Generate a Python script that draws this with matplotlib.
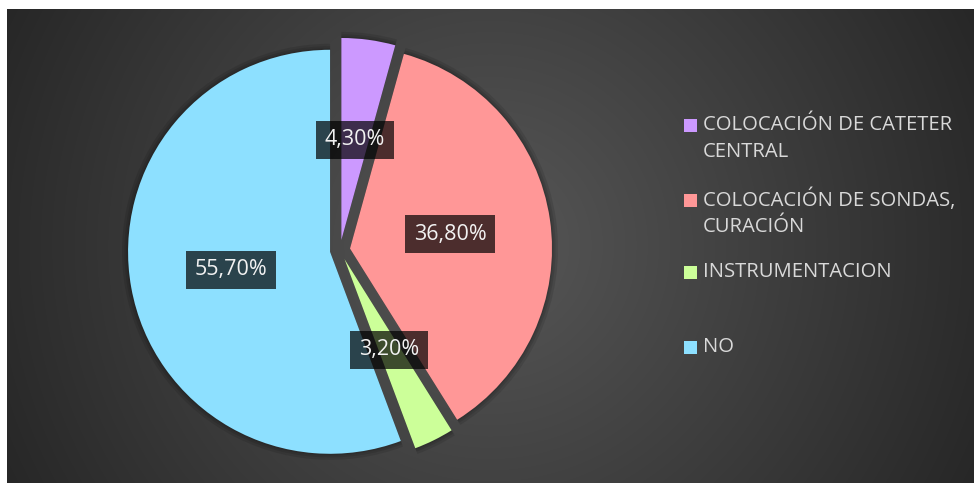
import numpy as np
import matplotlib
matplotlib.use("Agg")
import matplotlib.pyplot as plt
from matplotlib.patches import Rectangle

# ---- data ----
categories = [
    "COLOCACIÓN DE CATETER\nCENTRAL",
    "COLOCACIÓN DE SONDAS,\nCURACIÓN",
    "INSTRUMENTACION",
    "NO",
]
values = [4.30, 36.80, 3.20, 55.70]
colors = ["#CC99FF", "#FF9797", "#CCFF99", "#8DE0FF"]

W, H = 974, 483
plt.rcParams["font.family"] = ["Open Sans", "DejaVu Sans"]

fig = plt.figure(figsize=(W / 100, H / 100), dpi=100, facecolor="white")

# ---- radial gradient background ----
bg = fig.add_axes([7 / W, 0, (W - 7) / W, (H - 9) / H])
bw, bh = W - 7, H - 9
yy, xx = np.mgrid[0:bh, 0:bw]
cx, cy = 490 - 7, 245 - 9
d = np.hypot(xx - cx, yy - cy) / np.hypot(max(cx, bw - cx), max(cy, bh - cy))
d = np.clip(d, 0, 1)
c0, c1 = 0x57 / 255, 0x27 / 255
g = c0 + (c1 - c0) * d
bg.imshow(np.dstack([g, g, g]), aspect="auto", interpolation="bilinear")
bg.set_axis_off()

# ---- pie ----
R = 202
lim = 1.1
side = 2 * lim * R
pcx, pcy = 340, 250
ax = fig.add_axes([(pcx - side / 2) / W, (H - pcy - side / 2) / H, side / W, side / H])
ax.set_facecolor("none")
explode = [0.05] * len(values)

# soft shadow under slices
for r in [1.03, 1.018, 1.008]:
    ax.pie(values, colors=["black"] * len(values), startangle=90, counterclock=False,
           explode=explode, radius=r, wedgeprops=dict(alpha=0.1, linewidth=0))

wedges, texts, autotexts = ax.pie(
    values, colors=colors, startangle=90, counterclock=False, explode=explode,
    radius=1, pctdistance=0.5,
    autopct=lambda p: f"{p:.2f}".replace(".", ",") + "%",
    wedgeprops=dict(linewidth=0),
    textprops=dict(color="#F2F2F2", fontsize=15.5),
)
for t in autotexts:
    t.set_bbox(dict(boxstyle="square,pad=0.4", facecolor="black", alpha=0.7, linewidth=0))
ax.set_xlim(-lim, lim)
ax.set_ylim(-lim, lim)
ax.set_axis_off()

# ---- legend (Excel style, marker on first line) ----
leg_y = [125, 200, 272, 347]
for lab, col, y in zip(categories, colors, leg_y):
    fig.patches.append(Rectangle((684 / W, (H - y - 6.5) / H), 13 / W, 13 / H,
                                 transform=fig.transFigure, facecolor=col, linewidth=0))
    for i, line in enumerate(lab.split("\n")):
        fig.text(703 / W, (H - y - i * 27) / H, line, color="#D9D9D9", fontsize=14.6,
                 va="center", ha="left")

fig.savefig("out.png", dpi=100, facecolor=fig.get_facecolor())
